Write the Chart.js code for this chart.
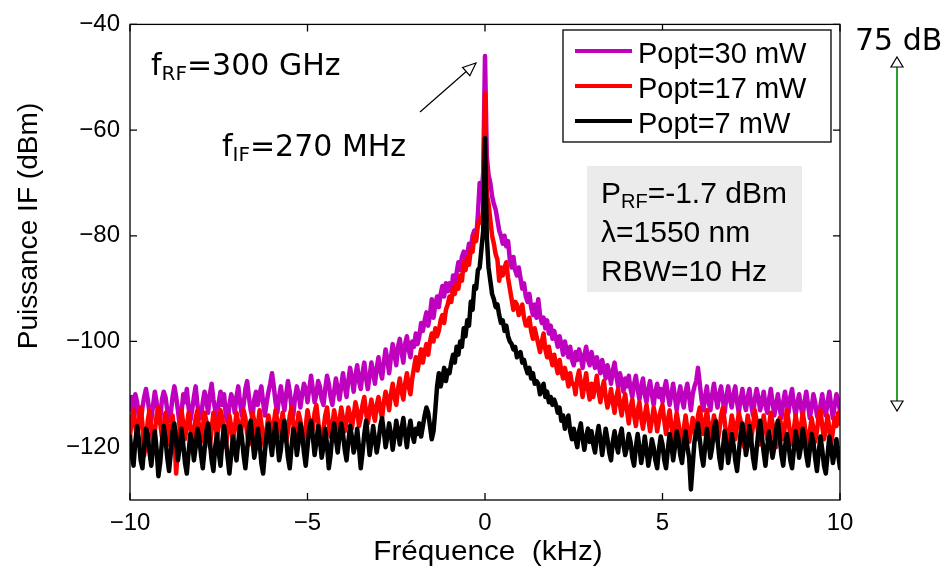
<!DOCTYPE html>
<html lang="fr">
<head>
<meta charset="UTF-8">
<title>Puissance IF - Fréquence</title>
<script src="https://cdn.jsdelivr.net/npm/chart.js"></script>
<style>
  html, body { margin: 0; padding: 0; background: #fff; }
  #wrap { width: 944px; height: 568px; position: relative; }
</style>
</head>
<body>
<div id="wrap"><canvas id="spectre"></canvas></div>
<script>
// frequency axis (kHz), one point every 0.05 kHz
const freqKHz = [
  -10,-9.95,-9.9,-9.85,-9.8,-9.75,-9.7,-9.65,-9.6,-9.55,-9.5,-9.45,-9.4,-9.35,-9.3,-9.25,-9.2,-9.15,-9.1,-9.05,
  -9,-8.95,-8.9,-8.85,-8.8,-8.75,-8.7,-8.65,-8.6,-8.55,-8.5,-8.45,-8.4,-8.35,-8.3,-8.25,-8.2,-8.15,-8.1,-8.05,
  -8,-7.95,-7.9,-7.85,-7.8,-7.75,-7.7,-7.65,-7.6,-7.55,-7.5,-7.45,-7.4,-7.35,-7.3,-7.25,-7.2,-7.15,-7.1,-7.05,
  -7,-6.95,-6.9,-6.85,-6.8,-6.75,-6.7,-6.65,-6.6,-6.55,-6.5,-6.45,-6.4,-6.35,-6.3,-6.25,-6.2,-6.15,-6.1,-6.05,
  -6,-5.95,-5.9,-5.85,-5.8,-5.75,-5.7,-5.65,-5.6,-5.55,-5.5,-5.45,-5.4,-5.35,-5.3,-5.25,-5.2,-5.15,-5.1,-5.05,
  -5,-4.95,-4.9,-4.85,-4.8,-4.75,-4.7,-4.65,-4.6,-4.55,-4.5,-4.45,-4.4,-4.35,-4.3,-4.25,-4.2,-4.15,-4.1,-4.05,
  -4,-3.95,-3.9,-3.85,-3.8,-3.75,-3.7,-3.65,-3.6,-3.55,-3.5,-3.45,-3.4,-3.35,-3.3,-3.25,-3.2,-3.15,-3.1,-3.05,
  -3,-2.95,-2.9,-2.85,-2.8,-2.75,-2.7,-2.65,-2.6,-2.55,-2.5,-2.45,-2.4,-2.35,-2.3,-2.25,-2.2,-2.15,-2.1,-2.05,
  -2,-1.95,-1.9,-1.85,-1.8,-1.75,-1.7,-1.65,-1.6,-1.55,-1.5,-1.45,-1.4,-1.35,-1.3,-1.25,-1.2,-1.15,-1.1,-1.05,
  -1,-0.95,-0.9,-0.85,-0.8,-0.75,-0.7,-0.65,-0.6,-0.55,-0.5,-0.45,-0.4,-0.35,-0.3,-0.25,-0.2,-0.15,-0.1,-0.05,
  0,0.05,0.1,0.15,0.2,0.25,0.3,0.35,0.4,0.45,0.5,0.55,0.6,0.65,0.7,0.75,0.8,0.85,0.9,0.95,
  1,1.05,1.1,1.15,1.2,1.25,1.3,1.35,1.4,1.45,1.5,1.55,1.6,1.65,1.7,1.75,1.8,1.85,1.9,1.95,
  2,2.05,2.1,2.15,2.2,2.25,2.3,2.35,2.4,2.45,2.5,2.55,2.6,2.65,2.7,2.75,2.8,2.85,2.9,2.95,
  3,3.05,3.1,3.15,3.2,3.25,3.3,3.35,3.4,3.45,3.5,3.55,3.6,3.65,3.7,3.75,3.8,3.85,3.9,3.95,
  4,4.05,4.1,4.15,4.2,4.25,4.3,4.35,4.4,4.45,4.5,4.55,4.6,4.65,4.7,4.75,4.8,4.85,4.9,4.95,
  5,5.05,5.1,5.15,5.2,5.25,5.3,5.35,5.4,5.45,5.5,5.55,5.6,5.65,5.7,5.75,5.8,5.85,5.9,5.95,
  6,6.05,6.1,6.15,6.2,6.25,6.3,6.35,6.4,6.45,6.5,6.55,6.6,6.65,6.7,6.75,6.8,6.85,6.9,6.95,
  7,7.05,7.1,7.15,7.2,7.25,7.3,7.35,7.4,7.45,7.5,7.55,7.6,7.65,7.7,7.75,7.8,7.85,7.9,7.95,
  8,8.05,8.1,8.15,8.2,8.25,8.3,8.35,8.4,8.45,8.5,8.55,8.6,8.65,8.7,8.75,8.8,8.85,8.9,8.95,
  9,9.05,9.1,9.15,9.2,9.25,9.3,9.35,9.4,9.45,9.5,9.55,9.6,9.65,9.7,9.75,9.8,9.85,9.9,9.95,
  10
];

// Puissance IF (dBm)
const popt30 = [
  -113,-110.5,-113.5,-110,-111.5,-114.5,-115.5,-112.5,-110.5,-109,-111,-113.5,-115,-112,-109.5,-111.5,-114,-115,-111,-109.5,
  -110.5,-113,-115,-113.5,-110.5,-108.5,-110.5,-113,-116,-113.5,-110,-111.5,-109,-112.5,-115,-113,-110.5,-108.5,-112,-114,
  -114.5,-111.5,-109.5,-111,-113.5,-110,-108,-111,-113,-115,-111.5,-109.5,-112,-110,-114,-115.5,-112,-110,-111,-113.5,
  -110.5,-108.5,-111.5,-114,-112,-109,-107.5,-110.5,-113,-114.5,-111,-109.5,-112,-110,-108.5,-111.5,-114,-111.5,-109.5,-108,
  -106,-108.5,-111.5,-113.5,-110.5,-108.5,-111,-113,-110,-107.5,-109.5,-112.5,-114,-110.5,-108.5,-110,-112.5,-110,-108,-109,
  -111.5,-109,-106.5,-109,-111.5,-110,-107.5,-108.5,-111,-112,-109,-106.5,-108,-110.5,-112,-109.5,-107,-109,-111,-108.5,
  -106,-108.5,-110.5,-107.5,-105,-107,-109.5,-106.5,-104.5,-107.5,-109,-106,-104,-107,-109,-106.5,-104,-106,-108,-105,
  -103,-105.5,-107,-104,-101.5,-103.5,-106,-103,-100.5,-102.5,-104.5,-101,-99.5,-102,-104,-100.5,-99,-101.5,-103,-100,
  -101,-98.5,-100.5,-99,-96.5,-98,-96,-94.5,-97,-95,-92,-95.5,-93,-91.5,-93.5,-91,-89.5,-91.5,-89,-90.5,
  -89,-90.5,-87.5,-89,-87,-85,-86.5,-84,-83,-85,-83.5,-81.5,-82.5,-80,-79,-80.5,-76,-70,-72.5,-68,
  -46,-65,-68.5,-70,-72.5,-74,-75,-77,-79,-80,-81.5,-80,-82,-81,-84.5,-86,-84,-86.5,-87.5,-86,
  -88,-90,-89,-91.5,-92.5,-91,-93.5,-95,-93,-95.5,-92,-95,-96.5,-95.5,-97.5,-96,-98.5,-97,-99.5,-98,
  -99.5,-101,-99,-100.5,-102.5,-100,-101.5,-103,-101,-103.5,-104.5,-102,-103.5,-101.5,-103,-105,-102.5,-101,-103.5,-104.5,
  -102,-103.5,-105,-103,-104.5,-106,-103.5,-105,-107,-104.5,-106,-108,-105.5,-104,-106.5,-108.5,-106,-107.5,-109.5,-107,
  -108.5,-106.5,-109,-110.5,-108,-106.5,-109,-111,-108.5,-107,-110,-111.5,-109,-107.5,-110,-112,-109.5,-108,-110.5,-109,
  -111.5,-109,-107.5,-110,-112,-110,-108,-110.5,-113,-110.5,-108.5,-111,-112.5,-109.5,-108,-110.5,-113,-110,-108.5,-107.5,
  -105,-108,-111,-113,-110.5,-108.5,-111.5,-113,-110,-108,-110.5,-112.5,-110,-108.5,-111,-113.5,-110.5,-108.5,-111,-112.5,
  -110,-108.5,-111.5,-113.5,-111,-109,-111.5,-113,-110.5,-109,-112,-114,-111,-109,-110.5,-113,-111.5,-109.5,-112,-113.5,
  -111,-109,-111.5,-114,-112,-110,-112.5,-114.5,-111.5,-109.5,-112,-113.5,-110.5,-109,-112,-114,-111.5,-110,-112.5,-114,
  -111.5,-109.5,-112,-114.5,-112.5,-110,-111.5,-114,-115,-112,-110,-112.5,-114,-111.5,-109.5,-112,-114.5,-112,-110,-111.5,
  -113
];
const popt17 = [
  -118,-114.5,-113,-116,-118.5,-115,-112.5,-115.5,-121.5,-119,-115,-113,-116.5,-119,-117,-114,-112.5,-115.5,-118,-116,
  -113.5,-116,-119.5,-117,-114,-117.5,-125,-120,-116,-113,-115.5,-118.5,-116,-113.5,-116,-119,-117.5,-114.5,-113,-116.5,
  -119,-116.5,-113.5,-115,-118,-120,-116.5,-113.5,-115,-118.5,-116,-113,-114.5,-117.5,-120,-117,-114,-116,-119,-116.5,
  -113.5,-115.5,-118.5,-116,-113,-114.5,-117.5,-119.5,-116.5,-113.5,-115,-118,-116,-113,-115.5,-118.5,-120,-116.5,-114,-116,
  -118.5,-115.5,-113,-115,-118,-116,-113.5,-116,-119,-117,-114,-112.5,-115.5,-118.5,-116.5,-113.5,-115,-118,-119.5,-116,
  -113,-115,-118,-116.5,-113.5,-112,-115,-118,-119.5,-116.5,-114,-112.5,-115.5,-118,-116,-113,-115,-117.5,-115,-112.5,
  -114.5,-117,-115,-112.5,-114,-116.5,-114,-111.5,-113,-116,-114.5,-112,-110.5,-113.5,-115.5,-113,-111,-113.5,-115,-112,
  -110.5,-113,-114.5,-111.5,-109.5,-111,-113,-110,-108,-110.5,-112,-109,-107,-109.5,-111,-108,-106,-108.5,-110,-107,
  -105,-103,-105.5,-103.5,-101.5,-104,-102,-100.5,-102.5,-100,-98.5,-100,-97.5,-99,-98,-96,-95,-96.5,-94,-93,
  -91.5,-92.5,-90,-91,-89,-90,-87.5,-88.5,-85,-86.5,-84,-85.5,-82.5,-83,-80,-81,-78,-77,-77.5,-75,
  -53,-72,-74,-77,-80,-81.5,-83.5,-84.5,-88.5,-86,-87.5,-86,-85,-88,-90,-92,-94,-92.5,-93,-95,
  -94.5,-93,-95.5,-97,-97,-95.5,-98,-99.5,-97.5,-99,-100.5,-102,-100,-98.5,-101.5,-103,-101,-103,-104.5,-102.5,
  -104.5,-106,-103.5,-105.5,-107,-105,-106.5,-108.5,-106,-108,-108,-110,-107,-105.5,-108,-110.5,-108,-106,-109,-111,
  -108,-110.5,-108.5,-106.5,-109.5,-111.5,-109,-107.5,-110.5,-112.5,-111,-109,-111.5,-113.5,-110.5,-109,-112,-114,-111.5,-110,
  -113,-115.5,-112.5,-111,-114,-116,-113,-111.5,-114.5,-116.5,-114,-112,-114.5,-117,-115,-112.5,-114,-117,-115,-113,
  -112,-115,-117.5,-115,-113,-116,-118.5,-116,-113.5,-115.5,-118,-119.5,-116.5,-114,-116.5,-119,-117,-114.5,-116,-118.5,
  -114,-112.5,-115,-117.5,-115.5,-113,-115.5,-118.5,-116.5,-114,-116,-119,-117,-114,-112.5,-115,-118,-119.5,-116.5,-114,
  -115.5,-118.5,-116,-113.5,-115,-118,-120,-117,-114,-116,-118.5,-116,-113,-115,-117.5,-119.5,-116.5,-114,-116.5,-118.5,
  -116,-113.5,-115.5,-118,-120,-117,-114.5,-116,-118.5,-116,-113,-115,-118,-119.5,-116.5,-114,-116,-118.5,-116,-113.5,
  -115.5,-118.5,-120,-117,-114.5,-116.5,-119,-117,-114,-113,-116,-118.5,-116.5,-114,-116.5,-119.5,-117,-114.5,-116,-113.5,
  -115.5
];
const popt7 = [
  -118,-121.5,-123.5,-119,-116,-118.5,-122.5,-124,-120,-116.5,-117.5,-121,-123.5,-120,-117,-120.5,-125.5,-123,-119,-116,
  -118.5,-122,-124.5,-121,-117,-115.5,-119,-122.5,-120,-116.5,-119.5,-123,-125,-121,-117.5,-119,-122.5,-120,-116.5,-118,
  -121.5,-124,-120.5,-117,-115.5,-119,-122.5,-124.5,-120,-117.5,-121,-123.5,-119,-116,-118.5,-122,-125,-121.5,-118,-120,
  -122.5,-119,-116,-118,-121.5,-124,-120.5,-116.5,-115,-118.5,-122,-120,-116.5,-119,-123,-125,-121,-117.5,-115.5,-119,
  -121.5,-118,-115.5,-119,-122.5,-120.5,-117,-115,-118.5,-122,-124,-120,-116.5,-118,-121.5,-119,-115.5,-117.5,-121,-123.5,
  -120,-116.5,-115,-118,-121.5,-119,-116,-118.5,-122,-120,-116.5,-119.5,-124,-121.5,-117.5,-115.5,-118.5,-121,-118,-115.5,
  -117.5,-120.5,-122.5,-119,-116,-118,-121,-119.5,-116.5,-120,-124,-121,-117.5,-115,-118,-121.5,-119,-116,-118.5,-121,
  -119,-116,-114.5,-117,-120,-118,-115.5,-117.5,-120.5,-118,-115,-117,-119.5,-116.5,-114.5,-117.5,-120,-117,-115,-117.5,
  -119,-116.5,-117.5,-115.5,-118,-116,-114,-112.5,-113.5,-116,-118.5,-117,-113,-108.5,-106,-108.5,-107,-105,-107.5,-105.5,
  -106,-104,-102.5,-104,-101,-102.5,-100,-101,-97.5,-99,-96,-97,-92.5,-94,-89.5,-90,-86.5,-86,-82.5,-79,
  -61.5,-80,-86,-88.5,-91,-92,-93.5,-93,-95,-96.5,-96,-98,-97,-99,-100,-100.5,-101.5,-101,-103,-102.5,
  -102,-104,-103.5,-105,-106,-105,-107,-106,-108,-107.5,-108,-110,-109,-108,-110.5,-109.5,-111.5,-110.5,-112,-111,
  -112,-113.5,-112.5,-115,-114,-116.5,-115,-114,-117,-118.5,-116.5,-118.5,-120,-117,-115.5,-118.5,-120.5,-118,-116.5,-119,
  -117,-119.5,-121,-118,-116,-118.5,-121.5,-119,-116.5,-118.5,-121,-122.5,-119,-117,-119.5,-121,-118,-116.5,-119.5,-121.5,
  -120,-117.5,-119,-122,-123.5,-120,-117.5,-120,-123,-121,-118,-120.5,-123.5,-121.5,-118.5,-120,-122.5,-124,-120.5,-118,
  -119.5,-122.5,-124,-120.5,-117.5,-119.5,-122.5,-120,-117,-118.5,-121.5,-123,-119.5,-117,-120,-122,-128,-123.5,-119,-117,
  -115.5,-118.5,-121.5,-123.5,-120,-116.5,-119,-122,-120,-116.5,-115,-118.5,-122,-124,-120.5,-117,-119.5,-123,-120.5,-117.5,
  -119.5,-122.5,-124.5,-121,-117.5,-115.5,-118,-121.5,-119.5,-116,-118.5,-122,-124,-120.5,-117,-115,-118,-121,-123.5,-120,
  -117,-119.5,-122,-120,-116.5,-115,-118,-121.5,-123.5,-120,-117.5,-119.5,-122.5,-124,-120.5,-117,-119,-122,-120,-116.5,
  -118.5,-121.5,-123.5,-120.5,-117.5,-119,-122,-124.5,-121,-118,-120.5,-123.5,-125,-121.5,-118,-120,-123,-121,-118.5,-121.5,
  -124
];

const seriesNames = ['Popt=30 mW', 'Popt=17 mW', 'Popt=7 mW'];
const seriesColors = ['#bf00bf', '#ff0000', '#000000'];
const xTicks = [-10, -5, 0, 5, 10];
const yTicks = [-120, -100, -80, -60, -40];

const toPoints = arr => arr.map((v, i) => ({ x: freqKHz[i], y: v }));
const minus = v => String(v).replace('-', '\u2212');

// draws text pieces, some of them as subscripts
function richText(ctx, x, y, parts) {
  parts.forEach(p => {
    ctx.font = p.font;
    ctx.fillText(p.t, x, y + (p.dy || 0));
    x += ctx.measureText(p.t).width;
  });
}

// text slightly stretched horizontally, like the original figure
function wideText(ctx, txt, x, y, sx, angle) {
  ctx.save();
  ctx.translate(x, y);
  if (angle) ctx.rotate(angle);
  ctx.scale(sx, 1);
  ctx.fillText(txt, 0, 0);
  ctx.restore();
}

function openHead(ctx, tipX, tipY, fromX, fromY, len, half) {
  const a = Math.atan2(tipY - fromY, tipX - fromX);
  const bx = tipX - len * Math.cos(a), by = tipY - len * Math.sin(a);
  const nx = -Math.sin(a) * half, ny = Math.cos(a) * half;
  ctx.beginPath();
  ctx.moveTo(tipX, tipY);
  ctx.lineTo(bx + nx, by + ny);
  ctx.lineTo(bx - nx, by - ny);
  ctx.closePath();
  ctx.fillStyle = '#fff';
  ctx.fill();
  ctx.stroke();
  return [bx, by];
}

const decor = {
  id: 'decor',
  afterDraw(chart) {
    const { ctx, chartArea: a, scales } = chart;
    ctx.save();

    // box + inward ticks
    ctx.strokeStyle = '#000';
    ctx.lineWidth = 1.3;
    ctx.strokeRect(a.left, a.top, a.right - a.left, a.bottom - a.top);
    ctx.beginPath();
    xTicks.forEach(v => {
      const px = scales.x.getPixelForValue(v);
      ctx.moveTo(px, a.bottom); ctx.lineTo(px, a.bottom - 7);
      ctx.moveTo(px, a.top); ctx.lineTo(px, a.top + 7);
    });
    yTicks.forEach(v => {
      const py = scales.y.getPixelForValue(v);
      ctx.moveTo(a.left, py); ctx.lineTo(a.left + 7, py);
      ctx.moveTo(a.right, py); ctx.lineTo(a.right - 7, py);
    });
    ctx.stroke();

    // axis titles
    ctx.fillStyle = '#000';
    ctx.font = '27px "Liberation Sans", Arial, sans-serif';
    ctx.textAlign = 'center';
    ctx.textBaseline = 'alphabetic';
    wideText(ctx, 'Fréquence  (kHz)', 488, 560, 1.1, 0);
    wideText(ctx, 'Puissance IF (dBm)', 37, 226, 1.04, -Math.PI / 2);

    // legend
    ctx.textAlign = 'left';
    ctx.fillStyle = '#fff';
    ctx.fillRect(563, 30, 268, 112);
    ctx.lineWidth = 1.3;
    ctx.strokeRect(563, 30, 268, 112);
    seriesNames.forEach((name, i) => {
      const ly = 51 + i * 35;
      ctx.strokeStyle = seriesColors[i];
      ctx.lineWidth = 4;
      ctx.beginPath();
      ctx.moveTo(575, ly); ctx.lineTo(632, ly);
      ctx.stroke();
      ctx.fillStyle = '#000';
      ctx.font = '29px "Liberation Sans", Arial, sans-serif';
      ctx.fillText(name, 638, ly + 12);
    });

    // measurement conditions box
    ctx.fillStyle = '#ebebeb';
    ctx.fillRect(587, 166, 215, 126);
    ctx.fillStyle = '#000';
    const big = '30px "Liberation Sans", Arial, sans-serif';
    const small = '20px "Liberation Sans", Arial, sans-serif';
    richText(ctx, 601, 203, [
      { t: 'P', font: big }, { t: 'RF', font: small, dy: 5 }, { t: '=-1.7 dBm', font: big }
    ]);
    ctx.font = big;
    ctx.fillText('\u03bb=1550 nm', 601, 242);
    ctx.fillText('RBW=10 Hz', 601, 281);

    // frequency annotations
    const dv = '30px "DejaVu Sans", sans-serif';
    const dvs = '20px "DejaVu Sans", sans-serif';
    richText(ctx, 151, 75, [
      { t: 'f', font: dv }, { t: 'RF', font: dvs, dy: 5 }, { t: '=300 GHz', font: dv }
    ]);
    richText(ctx, 222, 156, [
      { t: 'f', font: dv }, { t: 'IF', font: dvs, dy: 5 }, { t: '=270 MHz', font: dv }
    ]);

    ctx.strokeStyle = '#000';
    ctx.lineWidth = 1.2;
    const base = openHead(ctx, 476, 63, 420, 112, 13, 5.5);
    ctx.beginPath();
    ctx.moveTo(420, 112); ctx.lineTo(base[0], base[1]);
    ctx.stroke();

    // 75 dB span marker
    ctx.font = '30px "DejaVu Sans", sans-serif';
    ctx.fillStyle = '#000';
    ctx.fillText('75 dB', 855, 50);
    ctx.strokeStyle = '#2ca02c';
    ctx.lineWidth = 2;
    ctx.beginPath();
    ctx.moveTo(897, 67); ctx.lineTo(897, 401);
    ctx.stroke();
    ctx.strokeStyle = '#000';
    ctx.lineWidth = 1.2;
    openHead(ctx, 897, 57, 897, 120, 10, 6);
    openHead(ctx, 897, 411, 897, 300, 10, 6);

    ctx.restore();
  }
};

new Chart(document.getElementById('spectre'), {
  type: 'line',
  data: {
    datasets: [
      { label: seriesNames[0], data: toPoints(popt30), borderColor: seriesColors[0], order: 3 },
      { label: seriesNames[1], data: toPoints(popt17), borderColor: seriesColors[1], order: 2 },
      { label: seriesNames[2], data: toPoints(popt7), borderColor: seriesColors[2], order: 1 }
    ]
  },
  options: {
    responsive: true,
    maintainAspectRatio: false,
    animation: false,
    events: [],
    layout: { padding: { top: 20, right: 104, left: 0, bottom: 0 } },
    elements: {
      line: { borderWidth: 4.5, tension: 0, borderJoinStyle: 'round', borderCapStyle: 'round' },
      point: { radius: 0 }
    },
    plugins: { legend: { display: false }, tooltip: { enabled: false } },
    scales: {
      x: {
        type: 'linear', min: -10, max: 10,
        grid: { display: false, drawTicks: false },
        border: { display: false },
        afterBuildTicks: s => { s.ticks = xTicks.map(v => ({ value: v })); },
        afterFit: s => { s.height = 68; },
        ticks: {
          padding: 9, color: '#000', maxRotation: 0,
          font: { family: '"Liberation Sans", Arial, sans-serif', size: 24 },
          callback: minus
        }
      },
      y: {
        min: -130, max: -40,
        grid: { display: false, drawTicks: false },
        border: { display: false },
        afterBuildTicks: s => { s.ticks = yTicks.map(v => ({ value: v })); },
        afterFit: s => { s.width = 130; },
        ticks: {
          padding: 10, color: '#000',
          font: { family: '"Liberation Sans", Arial, sans-serif', size: 24 },
          callback: minus
        }
      }
    }
  },
  plugins: [decor]
});
</script>
</body>
</html>
